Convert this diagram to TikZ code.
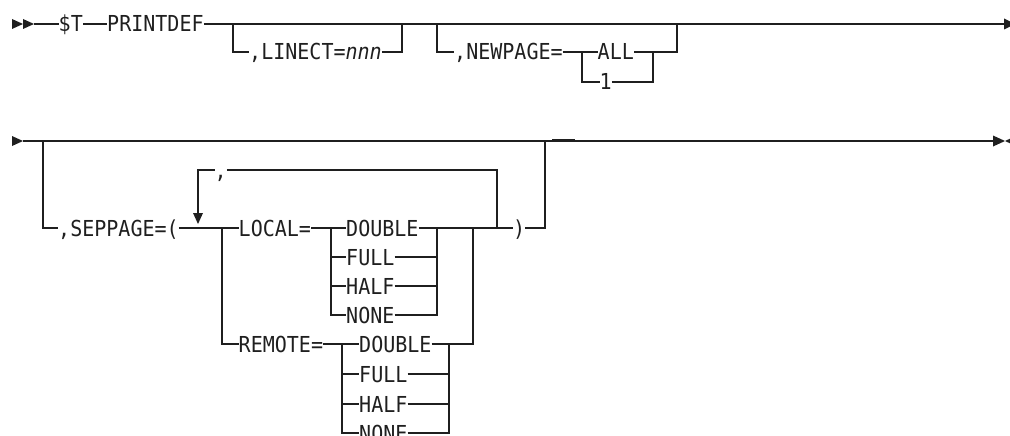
\documentclass[tikz,border=0pt]{standalone}
\usepackage{fontspec}
\newfontfamily\railfont[FakeStretch=0.91]{DejaVu Sans Mono}
\begin{document}
\begin{tikzpicture}[x=1pt,y=-1pt,
  rail/.style={line width=1.4pt,draw=black!88},
  lbl/.style={font=\railfont\fontsize{22pt}{26pt}\selectfont,text=black!88,inner xsep=0pt,inner ysep=0pt,text height=16pt,text depth=0pt,anchor=west},
  tipfill/.style={fill=black!88}]
\useasboundingbox (0,0) rectangle (1010,436);
\clip (0,0) rectangle (1010,436);

% ---------------- Row 1 ----------------
\fill[tipfill] (12,19) -- (23,24) -- (12,29) -- cycle;
\fill[tipfill] (23,19) -- (34,24) -- (23,29) -- cycle;
\coordinate (s1) at (34,24);
\node[lbl] (T) at (58.5,24) {\$T};
\node[lbl] (P) at (107,24) {PRINTDEF};
\coordinate (e1) at (1004,24);
\draw[rail] (s1) -- (T.west);
\draw[rail] (T.east) -- (P.west);
\draw[rail] (P.east) -- (e1);
\fill[tipfill] (1004,18.5) -- (1015,24) -- (1004,29.5) -- cycle;

% LINECT
\coordinate (a1) at (233,24);
\coordinate (a2) at (402,24);
\node[lbl] (LC) at (249,52) {,LINECT=\textit{nnn}};
\draw[rail] (a1) |- (LC.west);
\draw[rail] (LC.east) -| (a2);

% NEWPAGE
\coordinate (b1) at (437,24);
\coordinate (b2) at (677,24);
\node[lbl] (NP) at (454,52) {,NEWPAGE=};
\coordinate (nsp) at (582,52);
\coordinate (njn) at (653,52);
\node[lbl] (ALL) at (597.5,52) {ALL};
\node[lbl] (ONE) at (599.5,82) {1};
\draw[rail] (b1) |- (NP.west);
\draw[rail] (NP.east) -- (ALL.west);
\draw[rail] (nsp) |- (ONE.west);
\draw[rail] (ALL.east) -| (b2);
\draw[rail] (ONE.east) -| (njn);

% ---------------- Row 2 ----------------
\fill[tipfill] (12,136) -- (23,141) -- (12,146) -- cycle;
\coordinate (s2) at (23,141);
\coordinate (e2) at (993,141);
\draw[rail] (s2) -- (e2);
\fill[tipfill] (993,135.5) -- (1005,141) -- (993,146.5) -- cycle;
\fill[tipfill] (1017,135.5) -- (1005,141) -- (1017,146.5) -- cycle;
\draw[line width=2.6pt,black!88] (552,140.3) -- (575,140.3);

% SEPPAGE
\coordinate (c1) at (43,141);
\coordinate (c2) at (545,141);
\node[lbl] (SP) at (58,228) {,SEPPAGE=(};
\draw[rail] (c1) |- (SP.west);

% repetition loop
\coordinate (lp1) at (198,170);
\coordinate (lpj) at (497,228);
\coordinate (ah) at (198,213);
\node[lbl] (CM) at (214.5,170) {,};
\draw[rail] (CM.west) -- (lp1) -- (ah);
\fill[tipfill] (193,213) -- (203,213) -- (198,224) -- cycle;
\draw[rail] (CM.east) -| (lpj);

% LOCAL / REMOTE choice
\coordinate (k1) at (222,228);
\coordinate (k2) at (473,228);
\node[lbl] (LO) at (238.5,228) {LOCAL=};
\node[lbl] (RE) at (238.5,344) {REMOTE=};
\draw[rail] (SP.east) -- (LO.west);
\draw[rail] (k1) |- (RE.west);

% LOCAL options
\coordinate (lsp) at (331,228);
\coordinate (ljn) at (437,228);
\node[lbl] (L1) at (346,228) {DOUBLE};
\node[lbl] (L2) at (346,257) {FULL};
\node[lbl] (L3) at (346,286) {HALF};
\node[lbl] (L4) at (346,315) {NONE};
\draw[rail] (LO.east) -- (L1.west);
\draw[rail] (lsp) |- (L2.west);
\draw[rail] (lsp) |- (L3.west);
\draw[rail] (lsp) |- (L4.west);
\draw[rail] (L2.east) -| (ljn);
\draw[rail] (L3.east) -| (ljn);
\draw[rail] (L4.east) -| (ljn);
\draw[rail] (L1.east) -- (k2);

% REMOTE options
\coordinate (rsp) at (342,344);
\coordinate (rjn) at (449,344);
\node[lbl] (R1) at (359,344) {DOUBLE};
\node[lbl] (R2) at (359,374) {FULL};
\node[lbl] (R3) at (359,404) {HALF};
\node[lbl] (R4) at (359,433) {NONE};
\draw[rail] (RE.east) -- (R1.west);
\draw[rail] (rsp) |- (R2.west);
\draw[rail] (rsp) |- (R3.west);
\draw[rail] (rsp) |- (R4.west);
\draw[rail] (R2.east) -| (rjn);
\draw[rail] (R3.east) -| (rjn);
\draw[rail] (R4.east) -| (rjn);
\draw[rail] (R1.east) -| (k2);

% closing
\node[lbl] (CP) at (513,228) {)};
\draw[rail] (k2) -- (CP.west);
\draw[rail] (CP.east) -| (c2);
\end{tikzpicture}
\end{document}
